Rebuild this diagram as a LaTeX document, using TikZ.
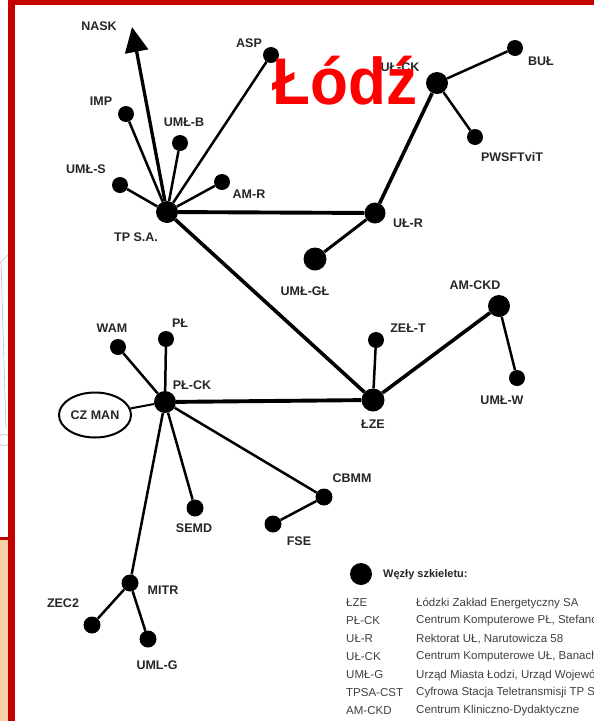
\documentclass[tikz,border=0pt]{standalone}
\usepackage{fontspec}
\setmainfont{Liberation Sans}
\usetikzlibrary{arrows.meta,shapes.geometric}
\definecolor{framered}{HTML}{C40000}
\definecolor{lodzred}{HTML}{FF0000}
\definecolor{peach}{HTML}{F7D2A6}

\begin{document}
\begin{tikzpicture}[x=1pt,y=-1pt,font=\fontsize{12.5}{14}\selectfont\bfseries,
 hub/.style={circle,fill=black,inner sep=0pt,minimum size=22pt},
 stn/.style={circle,fill=black,inner sep=0pt,minimum size=16pt},
 lbl/.style={inner sep=0pt,text=black!85},
 spoke/.style={line width=2.5pt},
 trunk/.style={line width=3.6pt},
 keytxt/.style={anchor=west,inner sep=0pt,text=black!75,font=\fontsize{11.5}{13}\selectfont}]
\useasboundingbox (0,0) rectangle (594,721);
\fill[white] (0,0) rectangle (594,721);
% scraps of the neighbouring slide
\fill[peach] (0,539) rectangle (8,721);
\draw[framered,line width=3pt] (0,538) -- (8,538);
\draw[black!25,line width=0.6pt] (8,255) -- (0,263);
\draw[black!25,line width=0.6pt] (1,262) -- (6,428);
\draw[black!25,line width=0.6pt] (4,440) circle (6);
% nodes
\node[hub] (tps) at (167,212) {};
\node[lbl] (tps-t) at (136,237) {TP S.A.};
\coordinate (nask-tip) at (132,27);
\node[lbl] (nask) at (99,26) {NASK};
\node[stn] (asp) at (271,55) {};
\node[lbl] (asp-t) at (249,43) {ASP};
\node[stn] (imp) at (126,114) {};
\node[lbl] (imp-t) at (101,101) {IMP};
\node[stn] (umlb) at (180,143) {};
\node[lbl] (umlb-t) at (184,122) {UMŁ-B};
\node[stn] (umls) at (120,185) {};
\node[lbl] (umls-t) at (86,169) {UMŁ-S};
\node[stn] (amr) at (222,182) {};
\node[lbl] (amr-t) at (249,194) {AM-R};
\node[hub] (ulck) at (437,83) {};
\node[lbl] (ulck-t) at (400,67) {UŁ-CK};
\node[stn] (bul) at (515,48) {};
\node[lbl] (bul-t) at (541,61) {BUŁ};
\node[stn] (pws) at (475,137) {};
\node[lbl] (pws-t) at (512,157) {PWSFTviT};
\node[hub,minimum size=21pt] (ulr) at (375,213) {};
\node[lbl] (ulr-t) at (408,223) {UŁ-R};
\node[hub,minimum size=23pt] (umlgl) at (315,259) {};
\node[lbl] (umlgl-t) at (305,291) {UMŁ-GŁ};
\node[hub] (amckd) at (499,306) {};
\node[lbl] (amckd-t) at (475,285) {AM-CKD};
\node[stn] (zelt) at (376,340) {};
\node[lbl] (zelt-t) at (408,328) {ZEŁ-T};
\node[stn] (umlw) at (517,378) {};
\node[lbl] (umlw-t) at (502,400) {UMŁ-W};
\node[hub,minimum size=23pt] (lze) at (373,400) {};
\node[lbl] (lze-t) at (373,424) {ŁZE};
\node[stn] (wam) at (118,347) {};
\node[lbl] (wam-t) at (112,328) {WAM};
\node[stn] (pl) at (166,339) {};
\node[lbl] (pl-t) at (180,323) {PŁ};
\node[hub] (plck) at (165,402) {};
\node[lbl] (plck-t) at (192,385) {PŁ-CK};
\node[ellipse,draw,line width=2pt,minimum width=72pt,minimum height=45pt,inner sep=0pt,text=black!85] (czman) at (95,415) {CZ MAN};
\node[stn,minimum size=17pt] (semd) at (195,508) {};
\node[lbl] (semd-t) at (194,528) {SEMD};
\node[stn,minimum size=17pt] (cbmm) at (324,497) {};
\node[lbl] (cbmm-t) at (352,478) {CBMM};
\node[stn,minimum size=17pt] (fse) at (273,524) {};
\node[lbl] (fse-t) at (299,541) {FSE};
\node[stn,minimum size=17pt] (mitr) at (130,583) {};
\node[lbl] (mitr-t) at (163,590) {MITR};
\node[stn,minimum size=17pt] (zec2) at (92,625) {};
\node[lbl] (zec2-t) at (63,603) {ZEC2};
\node[stn,minimum size=17pt] (umlg) at (148,639) {};
\node[lbl] (umlg-t) at (157,665) {UML-G};
% links
\draw[line width=3.3pt,-{Triangle[length=25pt,width=23pt]}] (tps) -- (nask-tip);
\draw[spoke] (tps)--(asp); \draw[spoke] (tps)--(imp); \draw[spoke] (tps)--(umlb);
\draw[spoke] (tps)--(umls); \draw[spoke] (tps)--(amr);
\draw[trunk,line width=3.9pt] (tps)--(ulr);
\draw[trunk] (tps)--(lze);
\draw[trunk] (ulr)--(ulck);
\draw[spoke] (ulck)--(bul); \draw[spoke] (ulck)--(pws);
\draw[spoke,line width=3pt] (ulr)--(umlgl);
\draw[trunk] (lze)--(amckd);
\draw[spoke] (lze)--(zelt); \draw[spoke] (amckd)--(umlw);
\draw[trunk,line width=3.9pt] (lze)--(plck);
\draw[spoke] (plck)--(wam); \draw[spoke] (plck)--(pl); \draw[spoke,line width=2pt] (plck)--(czman);
\draw[spoke] (plck)--(semd); \draw[spoke] (plck)--(cbmm); \draw[spoke] (plck)--(mitr);
\draw[spoke] (cbmm)--(fse);
\draw[spoke] (mitr)--(zec2); \draw[spoke] (mitr)--(umlg);
% title
\node[inner sep=0pt,anchor=base,text=lodzred,xscale=0.94,font=\fontsize{66}{66}\selectfont\bfseries] (lodz) at (345,104) {Łódź};
% legend
\node[hub] (key) at (361,574) {};
\node[lbl,anchor=west,font=\fontsize{11}{13}\selectfont\bfseries] (key-t) at (383,575) {Węzły szkieletu:};
\begin{scope}
\clip (0,0) rectangle (594,721);
\node[keytxt] (k1) at (346,603) {ŁZE};
\node[keytxt] (d1) at (416,603) {Łódzki Zakład Energetyczny SA};
\node[keytxt] (k2) at (346,621) {PŁ-CK};
\node[keytxt] (d2) at (416,621) {Centrum Komputerowe PŁ, Stefanowskiego};
\node[keytxt] (k3) at (346,639) {UŁ-R};
\node[keytxt] (d3) at (416,639) {Rektorat UŁ, Narutowicza 58};
\node[keytxt] (k4) at (346,657) {UŁ-CK};
\node[keytxt] (d4) at (416,657) {Centrum Komputerowe UŁ, Banacha};
\node[keytxt] (k5) at (346,675) {UMŁ-G};
\node[keytxt] (d5) at (416,675) {Urząd Miasta Łodzi, Urząd Wojewódzki};
\node[keytxt] (k6) at (346,693) {TPSA-CST};
\node[keytxt] (d6) at (416,693) {Cyfrowa Stacja Teletransmisji TP SA};
\node[keytxt] (k7) at (346,711) {AM-CKD};
\node[keytxt] (d7) at (416,711) {Centrum Kliniczno-Dydaktyczne};
\end{scope}
% frame
\fill[framered] (8,0) rectangle (15,721);
\fill[framered] (8,0) rectangle (594,5);
\end{tikzpicture}
\end{document}
